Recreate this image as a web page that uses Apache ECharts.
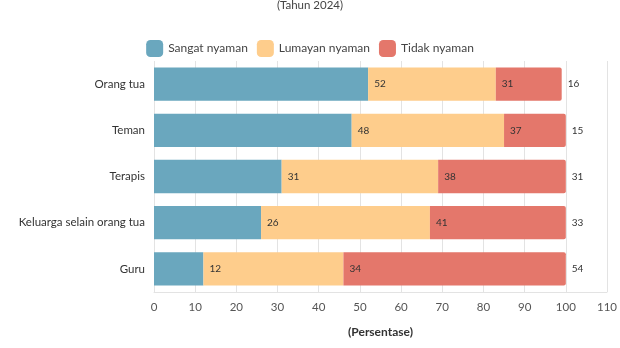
<!DOCTYPE html>
<html>
<head>
<meta charset="utf-8">
<script src="https://cdn.jsdelivr.net/npm/echarts@6/dist/echarts.min.js"></script>
<style>html,body{margin:0;padding:0;background:#fff;}#c{width:620px;height:348px;}</style>
</head>
<body>
<div id="c"></div>
<script>
var categories = ['Orang tua', 'Teman', 'Terapis', 'Keluarga selain orang tua', 'Guru'];
var seriesNames = ['Sangat nyaman', 'Lumayan nyaman', 'Tidak nyaman'];
var sangatNyaman = [52, 48, 31, 26, 12];
var lumayanNyaman = [31, 37, 38, 41, 34];
var tidakNyaman = [16, 15, 31, 33, 54];
var xTicks = [0, 10, 20, 30, 40, 50, 60, 70, 80, 90, 100, 110];

var colors = ['#6aa7be', '#fecd8c', '#e4776b'];
var dataSets = [sangatNyaman, lumayanNyaman, tidakNyaman];
var fontFam = 'Lato, "Noto Sans", sans-serif';

var chart = echarts.init(document.getElementById('c'));
chart.setOption({
  animation: false,
  textStyle: { fontFamily: fontFam },
  title: {
    text: '(Tahun 2024)',
    left: 'center',
    top: -6,
    textStyle: { fontSize: 11.5, fontWeight: 'normal', color: '#444', fontFamily: fontFam }
  },
  legend: {
    data: seriesNames,
    top: 35,
    left: 'center',
    itemWidth: 17,
    itemHeight: 17,
    itemGap: 9,
    icon: 'roundRect',
    textStyle: { fontSize: 12, color: '#444', fontFamily: fontFam }
  },
  grid: { left: 154, right: 9.3, top: 61, bottom: 56, containLabel: false },
  xAxis: {
    type: 'value',
    min: xTicks[0],
    max: xTicks[xTicks.length - 1],
    interval: 10,
    name: '(Persentase)',
    nameLocation: 'middle',
    nameGap: 34,
    nameTextStyle: { fontSize: 12, fontWeight: 'bold', color: '#333', fontFamily: fontFam },
    axisLine: { show: true, lineStyle: { color: '#e3e3e3' } },
    axisTick: { show: false },
    splitLine: { show: true, lineStyle: { color: '#e3e3e3' } },
    axisLabel: { fontSize: 11.5, color: '#555', margin: 9, fontFamily: fontFam }
  },
  yAxis: {
    type: 'category',
    data: categories,
    inverse: true,
    axisLine: { show: false },
    axisTick: { show: false },
    axisLabel: { fontSize: 11.5, color: '#333', margin: 9, fontFamily: fontFam }
  },
  series: dataSets.map(function (d, i) {
    return {
      name: seriesNames[i],
      type: 'bar',
      stack: 'total',
      barWidth: '72%',
      data: d,
      itemStyle: {
        color: colors[i],
        borderRadius: i === 2 ? [0, 2, 2, 0] : 0
      },
      label: {
        show: true,
        position: 'right',
        distance: 6,
        fontSize: 10,
        color: '#333',
        fontFamily: fontFam
      }
    };
  })
});
</script>
</body>
</html>
